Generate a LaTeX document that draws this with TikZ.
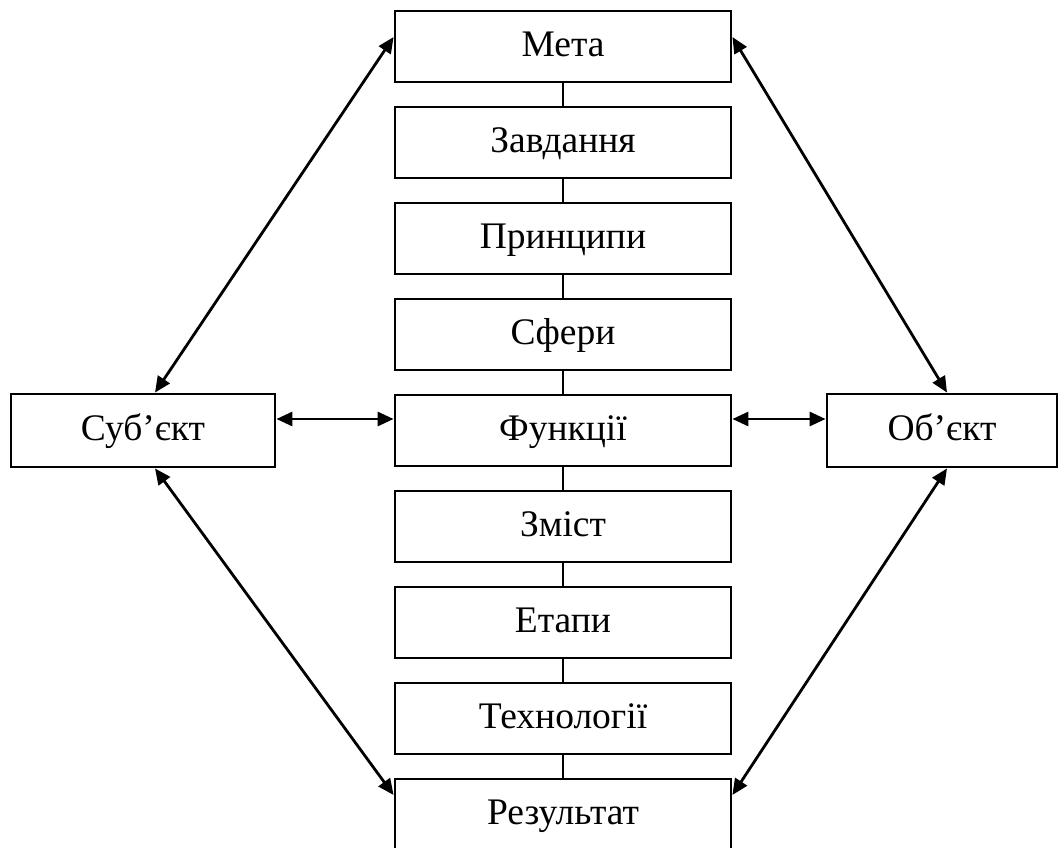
\documentclass[tikz,border=0pt]{standalone}
\usepackage{fontspec}
\setmainfont{Liberation Serif}
\usetikzlibrary{arrows.meta}
\begin{document}
\begin{tikzpicture}[x=1pt,y=-1pt,
  txt/.style={draw, line width=2.8pt, inner sep=0pt, text height=28pt, text depth=8pt, font=\fontsize{37.5}{40}\selectfont},
  box/.style={txt, minimum width=336pt, minimum height=71pt},
  side/.style={txt, minimum height=73pt},
  link/.style={line width=2.8pt},
  biarrow/.style={line width=2.8pt, {Triangle[length=16pt,width=14pt]}-{Triangle[length=16pt,width=14pt]}}]
\useasboundingbox (0,0) rectangle (1058,848);
\node[box] (b0) at (563,46.5) {Мета};
\node[box] (b1) at (563,142.5) {Завдання};
\node[box] (b2) at (563,238.5) {Принципи};
\node[box] (b3) at (563,334.5) {Сфери};
\node[box] (b4) at (563,430.5) {Функції};
\node[box] (b5) at (563,526.5) {Зміст};
\node[box] (b6) at (563,622.5) {Етапи};
\node[box] (b7) at (563,718.5) {Технології};
\node[box] (b8) at (563,814.5) {Результат};
\node[side, minimum width=264pt] (sub) at (143,430.5) {Суб’єкт};
\node[side, minimum width=230pt] (obj) at (942,430.5) {Об’єкт};
\foreach \i/\j in {0/1,1/2,2/3,3/4,4/5,5/6,6/7,7/8}
  \draw[link] (b\i.south) -- (b\j.north);
\draw[biarrow] ([xshift=12pt]sub.north) -- ([yshift=9.5pt]b0.west);
\draw[biarrow] ([xshift=12pt]sub.south) -- ([yshift=19.5pt]b8.west);
\draw[biarrow] ([xshift=5pt]obj.north) -- ([yshift=9.5pt]b0.east);
\draw[biarrow] ([xshift=5pt]obj.south) -- ([yshift=19.5pt]b8.east);
\draw[biarrow] ([yshift=11.5pt]sub.east) -- ([yshift=11.5pt]b4.west);
\draw[biarrow] ([yshift=11.5pt]b4.east) -- ([yshift=11.5pt]obj.west);
\end{tikzpicture}
\end{document}
